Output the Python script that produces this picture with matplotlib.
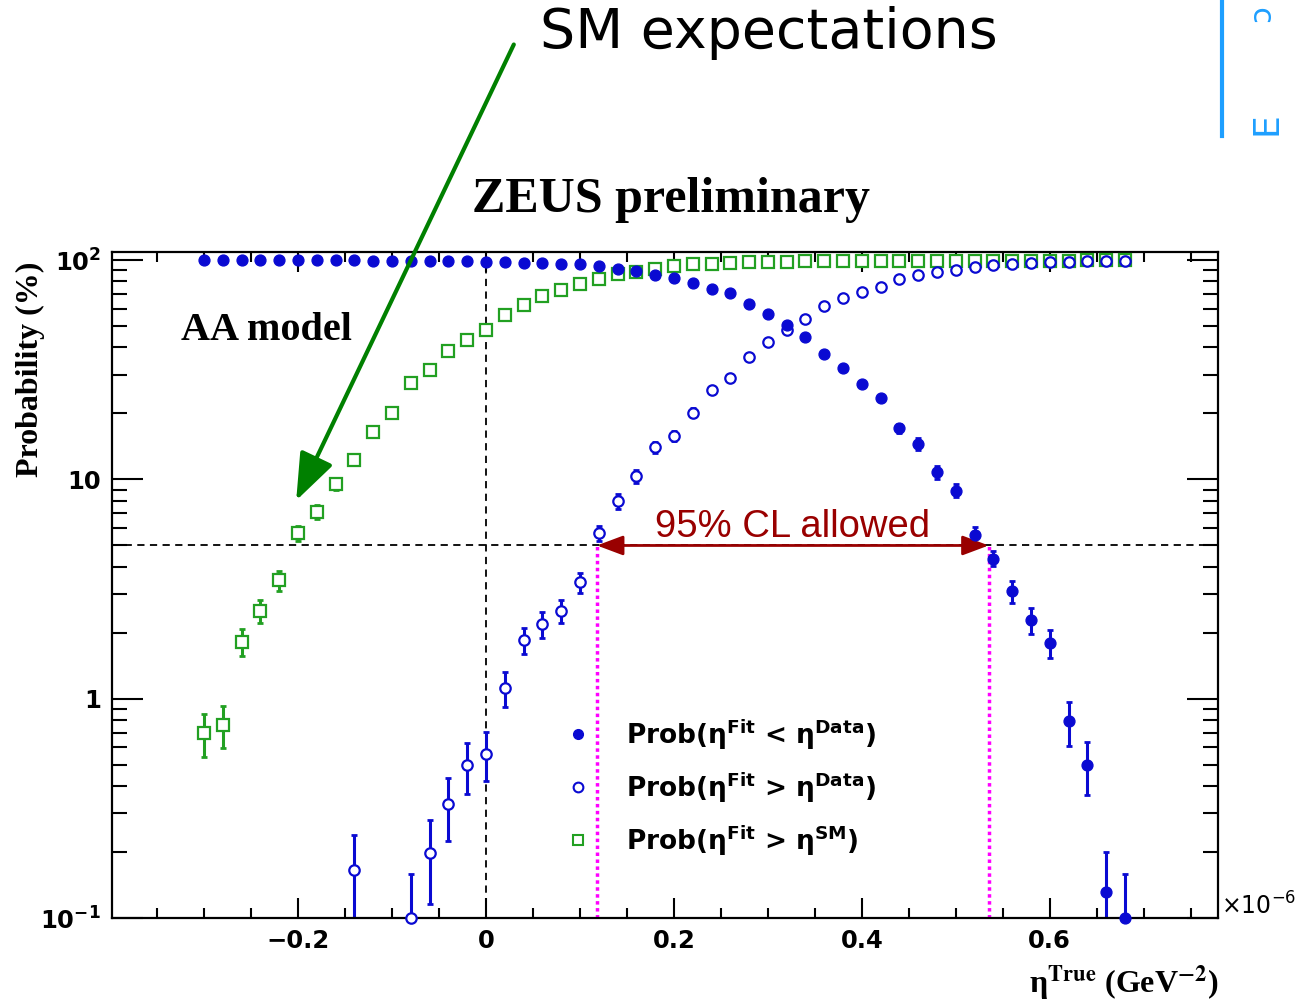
import matplotlib
matplotlib.use("Agg")
import matplotlib.pyplot as plt
import numpy as np
from matplotlib.lines import Line2D
from matplotlib.ticker import LogLocator, NullFormatter, MultipleLocator

# eta^True grid (x10^-6 GeV^-2)
eta_all = np.round(np.arange(-0.30, 0.681, 0.02), 2)

# Prob(eta_fit < eta_data)  [%]
prob_lt = [99.9, 99.9, 99.9, 99.9, 99.9, 99.8, 99.8, 99.8, 99.7, 99.6,
           99.6, 99.5, 99.3, 99.1, 98.9, 98.6, 98.0, 97.2, 96.8, 96.5,
           95.9, 93.9, 91.6, 89.0, 85.4, 83.0, 79.0, 73.8, 70.5, 63.0,
           56.7, 50.5, 44.7, 37.5, 32.3, 27.2, 23.5, 17.1, 14.5, 10.8,
           8.9, 5.6, 4.36, 3.1, 2.28, 1.79, 0.79, 0.50, 0.132, 0.10]
err_lt = [0.05, 0.05, 0.05, 0.05, 0.05, 0.06, 0.06, 0.06, 0.07, 0.08,
          0.08, 0.09, 0.1, 0.12, 0.13, 0.15, 0.18, 0.2, 0.22, 0.25,
          0.25, 0.3, 0.35, 0.4, 0.45, 0.5, 0.55, 0.6, 0.6, 0.65,
          0.65, 0.65, 0.65, 0.65, 0.65, 0.6, 0.6, 0.8, 0.9, 0.75,
          0.6, 0.45, 0.35, 0.36, 0.3, 0.26, 0.18, 0.137, 0.068, 0.058]

# Prob(eta_fit > eta_data)  [%]
eta_gt = [-0.14, -0.08, -0.06, -0.04, -0.02, 0.00, 0.02, 0.04, 0.06, 0.08,
          0.10, 0.12, 0.14, 0.16, 0.18, 0.20, 0.22, 0.24, 0.26, 0.28,
          0.30, 0.32, 0.34, 0.36, 0.38, 0.40, 0.42, 0.44, 0.46, 0.48,
          0.50, 0.52, 0.54, 0.56, 0.58, 0.60, 0.62, 0.64, 0.66, 0.68]
prob_gt = [0.165, 0.10, 0.198, 0.33, 0.498, 0.562, 1.12, 1.85, 2.19, 2.51,
           3.4, 5.71, 7.96, 10.35, 14.0, 15.8, 20.2, 25.5, 29.1, 36.2,
           42.3, 48.3, 54.2, 61.7, 66.9, 71.7, 75.6, 82.5, 85.2, 88.5,
           90.7, 93.2, 94.9, 96.6, 97.6, 97.9, 98.6, 98.9, 99.0, 99.2]
err_gt = [0.075, 0.058, 0.082, 0.106, 0.13, 0.14, 0.2, 0.25, 0.3, 0.3,
          0.36, 0.45, 0.6, 0.7, 0.85, 0.9, 0.9, 0.9, 0.9, 0.9,
          0.9, 0.85, 0.8, 0.8, 0.7, 0.65, 0.6, 0.5, 0.45, 0.4,
          0.35, 0.3, 0.25, 0.2, 0.18, 0.15, 0.12, 0.1, 0.1, 0.08]

# Prob(eta_fit > eta_SM)  [%]
prob_sm = [0.695, 0.758, 1.82, 2.51, 3.47, 5.71, 7.12, 9.52, 12.3, 16.5,
           20.1, 27.6, 31.7, 38.5, 43.2, 48.3, 56.5, 62.2, 69.0, 73.0,
           77.8, 81.9, 86.3, 88.5, 91.6, 93.9, 95.9, 96.6, 97.2, 97.9,
           98.3, 98.6, 98.8, 98.9, 99.0, 99.1, 99.2, 99.3, 99.3, 99.4,
           99.4, 99.5, 99.5, 99.5, 99.6, 99.6, 99.6, 99.7, 99.7, 99.7]
err_sm = [0.155, 0.165, 0.26, 0.3, 0.37, 0.45, 0.5, 0.55, 0.6, 0.65,
          0.7, 0.8, 0.85, 0.9, 0.9, 0.9, 0.9, 0.9, 0.85, 0.8,
          0.75, 0.7, 0.6, 0.55, 0.5, 0.45, 0.4, 0.35, 0.3, 0.28,
          0.25, 0.22, 0.2, 0.18, 0.16, 0.15, 0.14, 0.13, 0.12, 0.11,
          0.1, 0.1, 0.09, 0.09, 0.08, 0.08, 0.07, 0.07, 0.06, 0.06]

cl_level = 5.0          # %
cl_low, cl_high = 0.118, 0.535

W, H = 1295, 1002
def fx(px): return px / W
def fy(py): return 1 - py / H

fig = plt.figure(figsize=(W / 100, H / 100), dpi=100)
ax = fig.add_axes([fx(112), fy(918), fx(1218) - fx(112), fy(252) - fy(918)])

blue = "#0a0ad2"
green = "#22a022"

# error bars (clipped), markers (not clipped, ROOT-like)
ax.errorbar(eta_all, prob_lt, yerr=err_lt, fmt="none", ecolor=blue, elinewidth=2.2, capsize=2.5, capthick=2)
ax.errorbar(eta_gt, prob_gt, yerr=err_gt, fmt="none", ecolor=blue, elinewidth=2.2, capsize=2.5, capthick=2)
ax.errorbar(eta_all, prob_sm, yerr=err_sm, fmt="none", ecolor=green, elinewidth=2.2, capsize=2.5, capthick=2)
ax.plot(eta_all, prob_sm, "s", ms=8, mfc="white", mec=green, mew=1.6, clip_on=False, zorder=4)
ax.plot(eta_gt, prob_gt, "o", ms=7.5, mfc="white", mec=blue, mew=1.6, clip_on=False, zorder=5)
ax.plot(eta_all, prob_lt, "o", ms=7.8, mfc=blue, mec=blue, clip_on=False, zorder=6)

ax.set_yscale("log")
ax.set_xlim(-0.398, 0.779)
ax.set_ylim(0.1, 109)

ax.axhline(cl_level, color="black", ls=(0, (4, 3)), lw=1.3, zorder=1)
ax.axvline(0, color="black", ls=(0, (4, 3)), lw=1.3, zorder=1)
for xv in (cl_low, cl_high):
    ax.plot([xv, xv], [0.1, cl_level], color="#ff00ff", ls=(0, (1, 1)), lw=2.5, zorder=2)
ax.annotate("", xy=(cl_low, cl_level), xytext=(cl_high, cl_level),
            arrowprops=dict(arrowstyle="<|-|>,head_length=1.6,head_width=0.6",
                            color="#990000", lw=2, shrinkA=0, shrinkB=0))
ax.text((cl_low + cl_high) / 2, 5.45, "95% CL allowed", color="#990000",
        fontsize=27.5, family="Liberation Sans", ha="center", va="baseline")

ax.text(-0.325, 48, "AA model", fontsize=29, fontweight="bold",
        family="Liberation Serif", ha="left", va="center")

# ticks
ax.xaxis.set_minor_locator(MultipleLocator(0.05))
ax.set_xticks([-0.2, 0, 0.2, 0.4, 0.6])
ax.set_xticklabels(["\u22120.2", "0", "0.2", "0.4", "0.6"])
ax.yaxis.set_minor_locator(LogLocator(base=10, subs=np.arange(2, 10)))
ax.yaxis.set_minor_formatter(NullFormatter())
ax.set_yticks([0.1, 1, 10, 100])
ax.set_yticklabels([r"$\mathbf{10^{-1}}$", "1", "10", r"$\mathbf{10^{2}}$"])
ax.tick_params(axis="both", which="both", direction="in", top=True, right=True, width=1.5)
ax.tick_params(axis="x", which="major", length=14.5, pad=8)
ax.tick_params(axis="x", which="minor", length=7.5)
ax.tick_params(axis="y", which="major", length=22, pad=8)
ax.tick_params(axis="y", which="minor", length=11)
for lab in ax.get_xticklabels() + ax.get_yticklabels():
    lab.set_fontsize(17.5)
    lab.set_fontweight("bold")
for sp in ax.spines.values():
    sp.set_linewidth(1.6)

# legend
handles = [Line2D([], [], ls="none", marker="o", ms=7, mfc=blue, mec=blue),
           Line2D([], [], ls="none", marker="o", ms=7, mfc="white", mec=blue, mew=1.5),
           Line2D([], [], ls="none", marker="s", ms=7, mfc="white", mec=green, mew=1.5)]
labels = [r"Prob(η$^{\mathbf{Fit}}$ < η$^{\mathbf{Data}}$)",
          r"Prob(η$^{\mathbf{Fit}}$ > η$^{\mathbf{Data}}$)",
          r"Prob(η$^{\mathbf{Fit}}$ > η$^{\mathbf{SM}}$)"]
ax.legend(handles, labels, loc="upper left", bbox_to_anchor=(fx(552), fy(704)),
          bbox_transform=fig.transFigure, frameon=False, handlelength=1.0,
          handletextpad=1.3, labelspacing=0.7, borderpad=0,
          prop=dict(size=19, weight="bold"))

# labels around the frame
fig.text(fx(30), fy(369), "Probability (%)", rotation=90, fontsize=23, fontweight="bold",
         family="Liberation Serif", ha="center", va="center")
fig.text(fx(1218), fy(983), r"η$^{\mathbf{True}}$ (GeV$^{\mathbf{-2}}$)", fontsize=23,
         fontweight="bold", family="Liberation Serif", math_fontfamily="stix",
         ha="right", va="center")
fig.text(fx(1221), fy(906), r"$\times$10$^{-6}$", fontsize=17, ha="left", va="center")
fig.text(fx(671), fy(200), "ZEUS preliminary", fontsize=36, fontweight="bold",
         family="Liberation Serif", ha="center", va="center")

# slide annotations
fig.text(fx(540), fy(33), "SM expectations", fontsize=40, ha="left", va="center")
fig.add_artist(matplotlib.patches.FancyArrowPatch(
    (fx(515), fy(42)), (fx(295), fy(503)), transform=fig.transFigure,
    arrowstyle="-|>,head_length=1.45,head_width=0.55", color="#008000", lw=3,
    mutation_scale=20))
fig.add_artist(Line2D([fx(1222), fx(1222)], [fy(0), fy(136)], color="#1e9fff", lw=3))
fig.text(fx(1266), fy(124), "E", rotation=90, fontsize=26, color="#1e9fff",
         ha="center", va="center")
fig.text(fx(1262), fy(14), "\u0254", rotation=90, fontsize=22, color="#1e9fff",
         ha="center", va="center")

fig.savefig("out.png", dpi=100)
